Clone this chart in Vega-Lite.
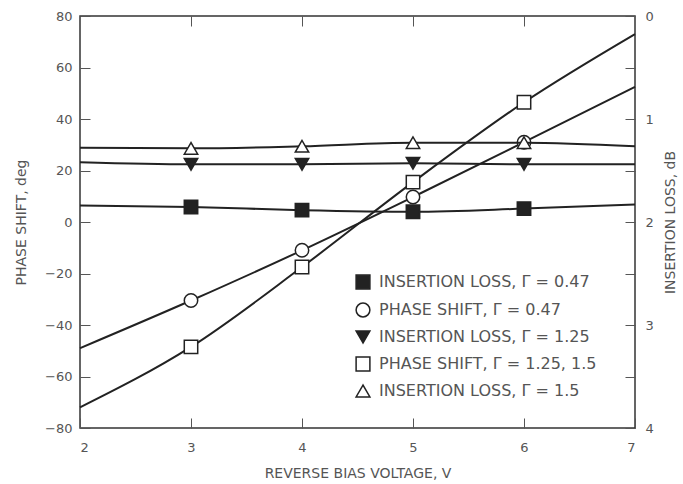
{
  "$schema": "https://vega.github.io/schema/vega-lite/v6.json",
  "width": 555,
  "height": 412,
  "autosize": {"type": "none"},
  "padding": {"left": 80, "top": 16, "right": 48, "bottom": 56},
  "background": "white",
  "config": {
    "view": {"stroke": "#333", "strokeWidth": 1.5},
    "font": "DejaVu Sans",
    "axis": {
      "domain": false,
      "grid": false,
      "tickColor": "#555",
      "tickWidth": 1,
      "labelColor": "#555",
      "labelFontSize": 13,
      "titleColor": "#555",
      "titleFontSize": 14,
      "titleFontWeight": "normal",
      "labelFont": "DejaVu Sans",
      "titleFont": "DejaVu Sans"
    },
    "legend": {
      "labelFont": "DejaVu Sans",
      "labelFontSize": 16,
      "labelColor": "#555",
      "labelLimit": 320
    }
  },
  "data": {
    "values": [
      {"v": 2, "series": "PHASE SHIFT, Γ = 0.47", "kind": "phase", "val": -49},
      {"v": 3, "series": "PHASE SHIFT, Γ = 0.47", "kind": "phase", "val": -30.5},
      {"v": 4, "series": "PHASE SHIFT, Γ = 0.47", "kind": "phase", "val": -11},
      {"v": 5, "series": "PHASE SHIFT, Γ = 0.47", "kind": "phase", "val": 9.7},
      {"v": 6, "series": "PHASE SHIFT, Γ = 0.47", "kind": "phase", "val": 31},
      {"v": 7, "series": "PHASE SHIFT, Γ = 0.47", "kind": "phase", "val": 52.5},
      {"v": 2, "series": "PHASE SHIFT, Γ = 1.25, 1.5", "kind": "phase", "val": -72},
      {"v": 3, "series": "PHASE SHIFT, Γ = 1.25, 1.5", "kind": "phase", "val": -48.5},
      {"v": 4, "series": "PHASE SHIFT, Γ = 1.25, 1.5", "kind": "phase", "val": -17.5},
      {"v": 5, "series": "PHASE SHIFT, Γ = 1.25, 1.5", "kind": "phase", "val": 15.5},
      {"v": 6, "series": "PHASE SHIFT, Γ = 1.25, 1.5", "kind": "phase", "val": 46.5},
      {"v": 7, "series": "PHASE SHIFT, Γ = 1.25, 1.5", "kind": "phase", "val": 73},
      {"v": 2, "series": "INSERTION LOSS, Γ = 0.47", "kind": "loss", "val": 1.84},
      {"v": 3, "series": "INSERTION LOSS, Γ = 0.47", "kind": "loss", "val": 1.855},
      {"v": 4, "series": "INSERTION LOSS, Γ = 0.47", "kind": "loss", "val": 1.885},
      {"v": 5, "series": "INSERTION LOSS, Γ = 0.47", "kind": "loss", "val": 1.9},
      {"v": 6, "series": "INSERTION LOSS, Γ = 0.47", "kind": "loss", "val": 1.87},
      {"v": 7, "series": "INSERTION LOSS, Γ = 0.47", "kind": "loss", "val": 1.83},
      {"v": 2, "series": "INSERTION LOSS, Γ = 1.25", "kind": "loss", "val": 1.42},
      {"v": 3, "series": "INSERTION LOSS, Γ = 1.25", "kind": "loss", "val": 1.44},
      {"v": 4, "series": "INSERTION LOSS, Γ = 1.25", "kind": "loss", "val": 1.44},
      {"v": 5, "series": "INSERTION LOSS, Γ = 1.25", "kind": "loss", "val": 1.43},
      {"v": 6, "series": "INSERTION LOSS, Γ = 1.25", "kind": "loss", "val": 1.44},
      {"v": 7, "series": "INSERTION LOSS, Γ = 1.25", "kind": "loss", "val": 1.44},
      {"v": 2, "series": "INSERTION LOSS, Γ = 1.5", "kind": "loss", "val": 1.28},
      {"v": 3, "series": "INSERTION LOSS, Γ = 1.5", "kind": "loss", "val": 1.285},
      {"v": 4, "series": "INSERTION LOSS, Γ = 1.5", "kind": "loss", "val": 1.265},
      {"v": 5, "series": "INSERTION LOSS, Γ = 1.5", "kind": "loss", "val": 1.23},
      {"v": 6, "series": "INSERTION LOSS, Γ = 1.5", "kind": "loss", "val": 1.23},
      {"v": 7, "series": "INSERTION LOSS, Γ = 1.5", "kind": "loss", "val": 1.265}
    ]
  },
  "layer": [
    {
      "transform": [{"filter": "datum.kind == 'phase'"}],
      "encoding": {
        "x": {
          "field": "v", "type": "quantitative",
          "scale": {"domain": [2, 7], "nice": false, "zero": false},
          "axis": {
            "orient": "bottom",
            "values": [2, 3, 4, 5, 6, 7],
            "tickSize": -10,
            "labelPadding": 23,
            "title": "REVERSE BIAS VOLTAGE, V",
            "titlePadding": 12
          }
        },
        "y": {
          "field": "val", "type": "quantitative",
          "scale": {"domain": [-80, 80], "nice": false},
          "axis": {
            "orient": "left",
            "values": [-80, -60, -40, -20, 0, 20, 40, 60, 80],
            "tickSize": -10,
            "labelPadding": 18,
            "title": "PHASE SHIFT, deg",
            "titlePadding": 16
          }
        }
      },
      "layer": [
        {
          "mark": {"type": "line", "interpolate": "monotone", "stroke": "#222", "strokeWidth": 2},
          "encoding": {"detail": {"field": "series"}}
        },
        {
          "transform": [{"filter": "datum.v >= 3 && datum.v <= 6"}],
          "mark": {"type": "point", "filled": false, "stroke": "#222", "strokeWidth": 1.5, "size": 180, "opacity": 1},
          "encoding": {
            "shape": {"field": "series", "type": "nominal"},
            "fill": {"field": "series", "type": "nominal"}
          }
        }
      ]
    },
    {
      "transform": [{"filter": "datum.kind == 'loss'"}],
      "encoding": {
        "x": {
          "field": "v", "type": "quantitative",
          "scale": {"domain": [2, 7], "nice": false, "zero": false},
          "axis": {
            "orient": "top",
            "values": [3, 4, 5, 6],
            "tickSize": -10,
            "labels": false,
            "title": null
          }
        },
        "y": {
          "field": "val", "type": "quantitative",
          "scale": {"domain": [0, 4], "nice": false, "reverse": true},
          "axis": {
            "orient": "right",
            "values": [0, 0.5, 1, 1.5, 2, 2.5, 3, 3.5, 4],
            "labelExpr": "datum.value % 1 == 0 ? format(datum.value, 'd') : ''",
            "tickSize": -10,
            "labelPadding": 20,
            "title": "INSERTION LOSS, dB",
            "titleAngle": 270,
            "titlePadding": 24
          }
        }
      },
      "layer": [
        {
          "mark": {"type": "line", "interpolate": "monotone", "stroke": "#222", "strokeWidth": 2},
          "encoding": {"detail": {"field": "series"}}
        },
        {
          "transform": [{"filter": "datum.v >= 3 && datum.v <= 6"}],
          "mark": {"type": "point", "filled": false, "stroke": "#222", "strokeWidth": 1.5, "size": 180, "opacity": 1},
          "encoding": {
            "shape": {
              "field": "series", "type": "nominal",
              "scale": {
                "domain": ["INSERTION LOSS, Γ = 0.47", "PHASE SHIFT, Γ = 0.47", "INSERTION LOSS, Γ = 1.25", "PHASE SHIFT, Γ = 1.25, 1.5", "INSERTION LOSS, Γ = 1.5"],
                "range": ["square", "circle", "triangle-down", "square", "triangle-up"]
              },
              "legend": {
                "title": null,
                "orient": "none",
                "legendX": 275,
                "legendY": 258,
                "symbolStrokeColor": "#222",
                "symbolStrokeWidth": 1.5,
                "symbolSize": 190,
                "rowPadding": 8,
                "labelOffset": 8
              }
            },
            "fill": {
              "field": "series", "type": "nominal",
              "scale": {
                "domain": ["INSERTION LOSS, Γ = 0.47", "PHASE SHIFT, Γ = 0.47", "INSERTION LOSS, Γ = 1.25", "PHASE SHIFT, Γ = 1.25, 1.5", "INSERTION LOSS, Γ = 1.5"],
                "range": ["#222", "white", "#222", "white", "white"]
              },
              "legend": {
                "title": null,
                "orient": "none",
                "legendX": 275,
                "legendY": 258,
                "symbolStrokeColor": "#222",
                "symbolStrokeWidth": 1.5,
                "symbolSize": 190,
                "rowPadding": 8,
                "labelOffset": 8
              }
            }
          }
        }
      ]
    }
  ],
  "resolve": {"scale": {"y": "independent"}, "axis": {"x": "independent"}}
}
